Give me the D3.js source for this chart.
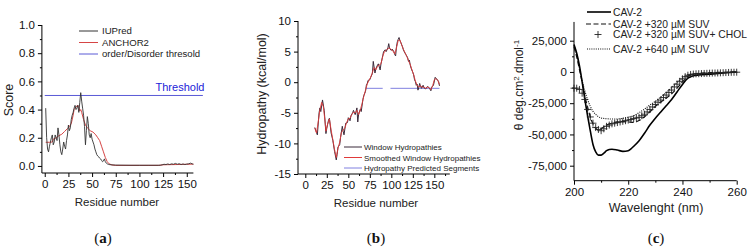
<!DOCTYPE html>
<html><head><meta charset="utf-8">
<script src="https://cdn.jsdelivr.net/npm/d3@7"></script>
<style>
html,body{margin:0;padding:0;background:#fff;}
svg{display:block;font-family:"Liberation Sans",Arial,sans-serif;}
</style></head>
<body><svg id="c" width="750" height="249"></svg>
<script>
// ---------- Panel (a) data ----------
const aXTicks = [0,25,50,75,100,125,150];
const aYTicks = [0.0,0.2,0.4,0.6,0.8,1.0];
const threshold = 0.5;
const iupred = [[1,0.41],[2,0.2],[3,0.12],[4,0.1],[5,0.14],[6,0.17],[7,0.2],[8,0.22],[9,0.15],[10,0.17],[11,0.22],[12,0.2],[13,0.18],[14,0.27],[15,0.22],[16,0.15],[17,0.1],[18,0.08],[19,0.12],[20,0.17],[21,0.14],[22,0.12],[23,0.18],[24,0.22],[25,0.29],[26,0.25],[27,0.27],[28,0.33],[29,0.36],[30,0.38],[31,0.41],[32,0.43],[33,0.4],[34,0.41],[35,0.43],[36,0.38],[37,0.45],[38,0.52],[39,0.46],[40,0.41],[41,0.36],[42,0.28],[43,0.15],[44,0.25],[45,0.35],[46,0.3],[47,0.22],[48,0.2],[49,0.23],[50,0.19],[51,0.17],[52,0.15],[53,0.12],[54,0.1],[55,0.08],[56,0.07],[57,0.065],[58,0.055],[59,0.05],[60,0.04],[61,0.03],[62,0.035],[63,0.05],[64,0.03],[65,0.02],[66,0.015],[67,0.012],[68,0.01],[70,0.008],[75,0.006],[90,0.005],[110,0.005],[122,0.005],[124,0.008],[126,0.012],[128,0.01],[130,0.014],[132,0.01],[134,0.015],[136,0.012],[138,0.018],[140,0.012],[142,0.016],[144,0.01],[146,0.014],[148,0.01],[150,0.013],[152,0.015],[154,0.02],[156,0.014],[157,0.012]];
const anchor2 = [[1,0.168],[5,0.168],[8,0.17],[9,0.19],[12,0.2],[15,0.215],[18,0.225],[21,0.245],[24,0.265],[26,0.28],[28,0.3],[30,0.36],[31,0.4],[33,0.42],[35,0.43],[36,0.42],[37,0.39],[38,0.4],[39,0.38],[41,0.33],[43,0.29],[45,0.27],[48,0.25],[51,0.24],[54,0.22],[56,0.2],[58,0.18],[60,0.14],[62,0.1],[64,0.06],[66,0.03],[68,0.015],[71,0.007],[75,0.004],[100,0.004],[120,0.004],[125,0.008],[130,0.009],[140,0.01],[150,0.012],[157,0.013]];
const aLegend = ["IUPred","ANCHOR2","order/Disorder thresold"];

// ---------- Panel (b) data ----------
const bXTicks = [0,25,50,75,100,125,150];
const bYTicks = [-15,-10,-5,0,5,10];
const windowHydro = [[11,-7.4],[13,-8.2],[14,-8.6],[16,-5.0],[17,-4.2],[18,-4.8],[20,-2.9],[22,-4.6],[24,-8.4],[25,-7.5],[27,-6.2],[28,-5.9],[30,-8.3],[32,-9.5],[34,-11.3],[36,-12.7],[37,-11.8],[38,-10.6],[40,-10.2],[41,-9.0],[43,-7.2],[44,-8.0],[45,-8.6],[47,-6.7],[49,-6.6],[50,-5.8],[52,-6.3],[53,-5.5],[55,-5.0],[56,-4.6],[58,-5.3],[59,-4.8],[60,-4.2],[61,-6.5],[62,-5.2],[64,-4.4],[65,-4.8],[67,-2.8],[68,-2.2],[70,-1.5],[71,-0.5],[72,-0.2],[73,0.3],[75,0.4],[76,0.8],[78,1.4],[79,3.4],[81,1.5],[82,2.2],[84,2.8],[85,3.0],[87,2.0],[88,3.0],[90,4.3],[91,5.0],[93,5.3],[94,5.0],[96,5.6],[97,6.3],[98,5.5],[100,5.2],[101,5.4],[103,5.0],[104,4.5],[105,4.3],[106,5.8],[107,6.6],[108,7.0],[109,7.3],[110,6.8],[111,6.5],[113,5.8],[114,5.3],[115,5.0],[117,4.5],[119,4.0],[120,3.4],[121,3.6],[122,2.8],[123,2.3],[125,1.6],[126,1.2],[127,0.4],[128,0.1],[129,-0.5],[130,-0.3],[131,-1.3],[132,-0.8],[133,-0.2],[134,-0.7],[135,-1.0],[137,-0.5],[138,-0.9],[140,-1.1],[142,-0.7],[144,-0.9],[146,-1.4],[147,-0.8],[149,-0.5],[151,0.8],[152,0.6],[153,0.5],[155,0.1],[156,-0.6]];
const smoothHydro = [[11,-7.5],[13,-8.3],[15,-6.5],[17,-4.5],[19,-3.3],[21,-4.0],[23,-6.5],[24,-8.0],[26,-6.8],[28,-6.0],[30,-7.8],[32,-9.4],[34,-11.0],[36,-12.3],[38,-10.8],[40,-9.8],[42,-8.2],[44,-7.8],[46,-7.5],[48,-6.6],[50,-6.0],[52,-5.9],[54,-5.3],[56,-4.9],[58,-5.0],[60,-4.6],[62,-5.3],[64,-4.5],[66,-3.5],[68,-2.3],[70,-1.3],[72,-0.3],[74,0.3],[76,0.8],[78,1.6],[80,2.4],[82,2.0],[84,2.6],[86,2.8],[88,3.0],[90,4.2],[92,5.0],[94,5.2],[96,5.5],[98,5.6],[100,5.3],[102,5.1],[104,4.6],[106,5.6],[108,6.8],[110,6.9],[112,6.1],[114,5.4],[116,4.8],[118,4.2],[120,3.5],[122,2.9],[124,2.0],[126,1.2],[128,0.2],[130,-0.5],[132,-0.8],[134,-0.6],[136,-0.8],[138,-0.8],[140,-1.0],[142,-0.8],[144,-0.9],[146,-1.2],[148,-0.6],[150,0.4],[152,0.6],[154,0.3],[156,-0.4]];
const segLevel = -1;
const segments = [[71,90],[99,156]];
const bLegend = ["Window Hydropathies","Smoothed Window Hydropathies","Hydropathy Predicted Segments"];

// ---------- Panel (c) data ----------
const cXTicks = [200,220,240,260];
const cYTicks = [25000,0,-25000,-50000,-75000];
const cav2 = [[200,22000],[201,15000],[202,5000],[203,-8000],[204,-22000],[205,-35000],[206,-47000],[207,-58000],[208,-64000],[209,-66500],[210,-66500],[211,-65000],[212,-63000],[213,-62000],[214,-61800],[216,-62500],[218,-63500],[220,-63000],[221,-61500],[222,-59500],[224,-55000],[226,-49000],[228,-42500],[230,-37000],[232,-32000],[234,-27000],[236,-22000],[238,-16000],[240,-10000],[242,-5000],[244,-3000],[246,-2500],[250,-1800],[255,-900],[260,0]];
const suv320 = [[200,20000],[201,12000],[202,2000],[203,-8000],[204,-19000],[205,-28000],[206,-36000],[207,-41500],[208,-45000],[209,-46500],[210,-45500],[211,-44000],[212,-42500],[214,-41000],[216,-40000],[218,-39800],[220,-40000],[222,-40300],[224,-38800],[226,-35800],[228,-31800],[230,-27500],[232,-24000],[234,-21000],[236,-17500],[238,-13000],[240,-8000],[242,-3500],[244,-1800],[246,-1000],[250,-600],[255,-300],[260,0]];
const suvChol = [[200,-13000],[201,-13000],[202,-14000],[203,-17000],[204,-22000],[205,-30000],[206,-36000],[207,-41000],[208,-44500],[209,-46000],[210,-47000],[211,-45500],[212,-43500],[213,-42500],[214,-41500],[215,-41000],[216,-40500],[217,-40000],[218,-39500],[219,-39000],[220,-38500],[221,-38000],[222,-37300],[223,-36800],[224,-36300],[225,-35000],[226,-33800],[227,-32000],[228,-30000],[229,-28000],[230,-26000],[231,-24200],[232,-22500],[233,-20500],[234,-18500],[235,-16500],[236,-14500],[237,-12000],[238,-9800],[239,-7500],[240,-5500],[241,-3800],[242,-2600],[243,-2000],[244,-1700],[245,-1500],[246,-1400],[247,-1300],[248,-1200],[249,-1100],[250,-1000],[251,-900],[252,-850],[253,-800],[254,-700],[255,-600],[256,-500],[257,-400],[258,-300],[259,-250],[260,-200]];
const suv640 = [[200,21000],[201,14000],[202,3000],[203,-7000],[204,-15000],[205,-22000],[206,-27500],[207,-31500],[208,-34000],[209,-35800],[210,-36800],[212,-37400],[214,-37700],[216,-37600],[218,-37100],[220,-36200],[222,-35000],[224,-32500],[226,-29800],[228,-26400],[230,-23500],[232,-20000],[234,-16500],[236,-12500],[238,-8500],[240,-5000],[242,-2800],[244,-2000],[248,-1500],[252,-1000],[256,-500],[260,0]];
const cLegend = ["CAV-2","CAV-2 +320 \u00b5M SUV","CAV-2 +320 \u00b5M SUV+ CHOL","CAV-2 +640 \u00b5M SUV"];

// ---------- drawing ----------
const svg = d3.select("#c");
const FONT = "Liberation Sans, Arial, sans-serif";
const hy = v => (v<0?"-":"") + Math.abs(v);

function axes(g, x, y, xt, yt, xminor, yminor, xfmt, yfmt, fs){
  const [y0] = y.range();
  const [x0] = x.range();
  const gx = g.append("g").attr("transform",`translate(0,${y0})`)
    .call(d3.axisBottom(x).tickValues(xt).tickSize(4).tickPadding(3).tickFormat(xfmt));
  g.append("g").attr("transform",`translate(0,${y0})`)
    .call(d3.axisBottom(x).tickValues(xminor).tickSize(2).tickFormat(""))
    .call(s=>s.select(".domain").remove());
  const gy = g.append("g").attr("transform",`translate(${x0},0)`)
    .call(d3.axisLeft(y).tickValues(yt).tickSize(4).tickPadding(3).tickFormat(yfmt));
  g.append("g").attr("transform",`translate(${x0},0)`)
    .call(d3.axisLeft(y).tickValues(yminor).tickSize(2).tickFormat(""))
    .call(s=>s.select(".domain").remove());
  g.selectAll(".domain").attr("stroke","#000").attr("stroke-width",1);
  g.selectAll(".tick line").attr("stroke","#000");
  g.selectAll(".tick text").attr("font-size",fs).attr("font-family",FONT).attr("fill","#111");
  gx.selectAll(".domain").attr("d",`M${x.range()[0]},0H${x.range()[1]}`);
  gy.selectAll(".domain").attr("d",`M0,${y.range()[0]}V${y.range()[1]}`);
}

// Panel a
{
  const x = d3.scaleLinear().domain([-3,157]).range([41.9,193.4]);
  const y = d3.scaleLinear().domain([-0.05,1.0]).range([173,25]);
  const g = svg.append("g");
  axes(g,x,y,aXTicks,aYTicks,d3.range(12.5,157,25),d3.range(0.1,1.0,0.2),d3.format("d"),d3.format(".1f"),11.5);
  const line = d3.line().x(d=>x(d[0])).y(d=>y(d[1]));
  g.append("line").attr("x1",x(0)).attr("x2",x(167)).attr("y1",y(threshold)).attr("y2",y(threshold))
    .attr("stroke","#5a5ad6").attr("stroke-width",1);
  g.append("path").datum(anchor2).attr("d",line).attr("fill","none").attr("stroke","#d64545").attr("stroke-width",1);
  g.append("path").datum(iupred).attr("d",line).attr("fill","none").attr("stroke","#333").attr("stroke-width",0.9);
  g.append("text").attr("x",180).attr("y",y(threshold)-4).attr("text-anchor","middle")
    .attr("font-size",11).attr("fill","#2222d8").text("Threshold");
  const cols = ["#333","#d64545","#5a5ad6"];
  aLegend.forEach((t,i)=>{
    const yy = 31 + i*11.5;
    g.append("line").attr("x1",79).attr("x2",98).attr("y1",yy).attr("y2",yy).attr("stroke",cols[i]).attr("stroke-width",1);
    g.append("text").attr("x",102).attr("y",yy+3.3).attr("font-size",9.6).attr("fill","#222").text(t);
  });
  g.append("text").attr("x",117).attr("y",206).attr("text-anchor","middle").attr("font-size",11.5).attr("fill","#222").text("Residue number");
  g.append("text").attr("transform","translate(13,100) rotate(-90)").attr("text-anchor","middle").attr("font-size",12.5).attr("fill","#222").text("Score");
}

// Panel b
{
  const x = d3.scaleLinear().domain([-8.5,168]).range([298,449.8]);
  const y = d3.scaleLinear().domain([-15,10]).range([174,21]);
  const g = svg.append("g");
  axes(g,x,y,bXTicks,bYTicks,d3.range(12.5,168,25),d3.range(-12.5,10,5),d3.format("d"),hy,11.5);
  const line = d3.line().x(d=>x(d[0])).y(d=>y(d[1]));
  segments.forEach(s=>{
    g.append("line").attr("x1",x(s[0])).attr("x2",x(s[1])).attr("y1",y(segLevel)).attr("y2",y(segLevel))
      .attr("stroke","#8080e0").attr("stroke-width",1);
  });
  g.append("path").datum(windowHydro).attr("d",line).attr("fill","none").attr("stroke","#3a2a3a").attr("stroke-width",1);
  g.append("path").datum(smoothHydro).attr("d",line).attr("fill","none").attr("stroke","#e03a3a").attr("stroke-width",0.9);
  const cols = ["#3a2a3a","#e03a3a","#8080e0"];
  bLegend.forEach((t,i)=>{
    const yy = 147 + i*10.5;
    g.append("line").attr("x1",344).attr("x2",362).attr("y1",yy).attr("y2",yy).attr("stroke",cols[i]).attr("stroke-width",1);
    g.append("text").attr("x",364).attr("y",yy+3).attr("font-size",8).attr("fill","#222").text(t);
  });
  g.append("text").attr("x",376).attr("y",207).attr("text-anchor","middle").attr("font-size",11.5).attr("fill","#222").text("Residue number");
  g.append("text").attr("transform","translate(266,94) rotate(-90)").attr("text-anchor","middle").attr("font-size",12.5).attr("fill","#222").text("Hydropathy (kcal/mol)");
}

// Panel c
{
  const x = d3.scaleLinear().domain([200,260]).range([574,736.7]);
  const y = d3.scaleLinear().domain([-87000,40000]).range([180.7,21.95]);
  const g = svg.append("g");
  const fmt = v => (v<0?"-":"") + d3.format(",")(Math.abs(v));
  axes(g,x,y,cXTicks,cYTicks,[210,230,250],[12500,-12500,-37500,-62500],d3.format("d"),fmt,11.5);
  const line = d3.line().x(d=>x(d[0])).y(d=>y(d[1])).curve(d3.curveMonotoneX);
  g.append("path").datum(suv640).attr("d",line).attr("fill","none").attr("stroke","#111").attr("stroke-width",1.1).attr("stroke-dasharray","1,1.2");
  g.append("path").datum(suv320).attr("d",line).attr("fill","none").attr("stroke","#111").attr("stroke-width",1.2).attr("stroke-dasharray","5,2.5");
  g.append("path").datum(cav2).attr("d",line).attr("fill","none").attr("stroke","#000").attr("stroke-width",1.6);
  g.selectAll(".pl").data(suvChol).join("path").attr("class","pl")
    .attr("transform",d=>`translate(${x(d[0])},${y(d[1])})`)
    .attr("d","M-3.5,0H3.5M0,-3.5V3.5").attr("stroke","#222").attr("stroke-width",0.9).attr("fill","none");
  const rows = [12,24,34.5,49];
  g.append("line").attr("x1",587).attr("x2",611).attr("y1",rows[0]).attr("y2",rows[0]).attr("stroke","#000").attr("stroke-width",1.6);
  g.append("line").attr("x1",586).attr("x2",611).attr("y1",rows[1]).attr("y2",rows[1]).attr("stroke","#111").attr("stroke-width",1.2).attr("stroke-dasharray","5,2.5");
  g.append("path").attr("d",`M594.5,${rows[2]}H601.5M598,${rows[2]-3.5}V${rows[2]+3.5}`).attr("stroke","#222").attr("stroke-width",0.9);
  g.append("line").attr("x1",587).attr("x2",611).attr("y1",rows[3]).attr("y2",rows[3]).attr("stroke","#111").attr("stroke-width",1.1).attr("stroke-dasharray","1,1.2");
  cLegend.forEach((t,i)=>{
    g.append("text").attr("x",613).attr("y",rows[i]+3.8).attr("font-size",10.3).attr("fill","#222").text(t);
  });
  g.append("text").attr("x",656).attr("y",212).attr("text-anchor","middle").attr("font-size",12.5).attr("fill","#222").text("Wavelenght (nm)");
  const yl = g.append("text").attr("transform","translate(523,85) rotate(-90)").attr("text-anchor","middle").attr("font-size",12).attr("fill","#222");
  yl.append("tspan").text("\u03b8 deg.cm");
  yl.append("tspan").attr("font-size",8).attr("dy",-4).text("2");
  yl.append("tspan").attr("dy",4).text(".dmol");
  yl.append("tspan").attr("font-size",8).attr("dy",-4).text("-1");
}

// Panel labels
[["a",103],["b",376],["c",656]].forEach(([l,cx])=>{
  const t = svg.append("text").attr("x",cx).attr("y",243).attr("text-anchor","middle")
    .attr("font-family","Liberation Serif, Times New Roman, serif").attr("font-size",15).attr("fill","#111");
  t.append("tspan").text("(");
  t.append("tspan").attr("font-weight","bold").text(l);
  t.append("tspan").text(")");
});
</script></body></html>
